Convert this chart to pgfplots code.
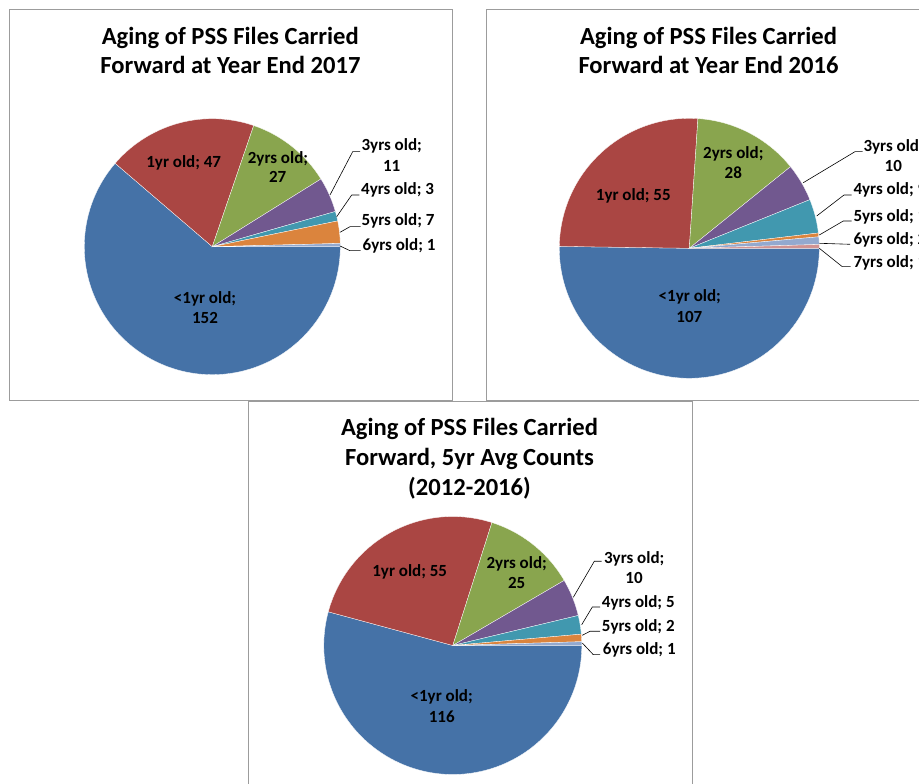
\documentclass[border=0pt]{standalone}
\usepackage{pgfplots}
\pgfplotsset{compat=1.18}
\usepackage{fontspec}
\setmainfont{Carlito}
\definecolor{cA}{HTML}{4572A7}
\definecolor{cB}{HTML}{AA4643}
\definecolor{cC}{HTML}{89A54E}
\definecolor{cD}{HTML}{71588F}
\definecolor{cE}{HTML}{4198AF}
\definecolor{cF}{HTML}{DB843D}
\definecolor{cG}{HTML}{93A9CF}
\definecolor{cH}{HTML}{D19392}
\definecolor{framec}{HTML}{9C9C9C}

% one wedge: colour, start angle, end angle (degrees, clockwise from east)
\newcommand\slice[3]{%
  \addplot[fill=#1, draw=white, line width=0.3pt, domain=#3:#2, samples=120, variable=\t]
    ({cos(\t)},{sin(\t)}) -- (axis cs:0,0) -- cycle;
}
% whole pie from a list value/colour
\newcommand\pie[1]{%
  \gdef\ptot{0}%
  \foreach \v/\c in {#1}{\pgfmathsetmacro\tmp{\ptot+\v}\xdef\ptot{\tmp}}%
  \gdef\pcum{0}%
  \foreach \v/\c in {#1}{%
    \pgfmathsetmacro\aS{-360*(\pcum/\ptot)}%
    \pgfmathsetmacro\aE{-360*((\pcum+\v)/\ptot)}%
    \edef\doslice{\noexpand\slice{\c}{\aS}{\aE}}\doslice
    \pgfmathsetmacro\tmp{\pcum+\v}\xdef\pcum{\tmp}}%
}
\pgfplotsset{pieaxis/.style={anchor=center, scale only axis, xmin=-1, xmax=1, ymin=-1, ymax=1, hide axis, clip=false}}

\begin{document}
\begin{tikzpicture}
\path[use as bounding box] (0,0) rectangle (919pt,784pt);
\clip (0,0) rectangle (919pt,784pt);

% frames
\begin{scope}[x=1pt,y=-1pt,shift={(0pt,784pt)}]
\draw[framec, line width=0.9pt] (9,9) rectangle (452,400.5);
\draw[framec, line width=0.9pt] (486.5,9) rectangle (940,400.5);
\draw[framec, line width=0.9pt] (248,401.5) rectangle (692,800);
\end{scope}

% Chart 1: year end 2017
\begin{axis}[pieaxis, at={(212.3pt,537.3pt)}, width=256pt, height=256pt]
\pie{152/cA,47/cB,27/cC,11/cD,3/cE,7/cF,1/cG}
\end{axis}

% Chart 2: year end 2016
\begin{axis}[pieaxis, at={(689.3pt,535.7pt)}, width=260pt, height=260pt]
\pie{107/cA,55/cB,28/cC,10/cD,9/cE,1/cF,2/cG,1/cH}
\end{axis}

% Chart 3: 5yr average
\begin{axis}[pieaxis, at={(452.8pt,138.5pt)}, width=258pt, height=258pt]
\pie{116/cA,55/cB,25/cC,10/cD,5/cE,2/cF,1/cG}
\end{axis}

\begin{scope}[x=1pt,y=-1pt,shift={(0pt,784pt)}]
\tikzset{tt/.style={anchor=base, inner sep=0pt, font=\bfseries\fontsize{24.6}{29}\selectfont},
         lb/.style={anchor=base, inner sep=0pt, font=\bfseries\fontsize{17}{21}\selectfont},
         lw/.style={anchor=base west, inner sep=0pt, font=\bfseries\fontsize{17}{21}\selectfont},
         ld/.style={black, line width=0.6pt}}
% titles
\node[tt] at (230.3,45) {Aging of PSS Files Carried};
\node[tt] at (230.5,74) {Forward at Year End 2017};
\node[tt] at (708.5,45) {Aging of PSS Files Carried};
\node[tt] at (708.5,74) {Forward at Year End 2016};
\node[tt] at (469.5,436) {Aging of PSS Files Carried};
\node[tt] at (469.5,466) {Forward, 5yr Avg Counts};
\node[tt] at (469.5,496) {(2012-2016)};

% chart 1 labels
\node[lb] at (183.7,168) {1yr old; 47};
\node[lb] at (278,163.3) {2yrs old;};
\node[lb] at (277.7,182.7) {27};
\node[lb] at (205,304) {<1yr old;};
\node[lb] at (205,324) {152};
\node[lb] at (391.7,151) {3yrs old;};
\node[lb] at (391.7,171.7) {11};
\node[lw] at (361,195) {4yrs old; 3};
\node[lw] at (361.5,226) {5yrs old; 7};
\node[lw] at (362.5,250.7) {6yrs old; 1};
\draw[ld] (330,195) -- (352.7,151.7) -- (360,151.7);
\draw[ld] (336.7,216.7) -- (351.7,195) -- (359.3,195);
\draw[ld] (340,232.3) -- (350,226.7) -- (360.7,226.7);
\draw[ld] (340,246) -- (350,250.7) -- (360.7,250.7);

% chart 2 labels
\node[lb] at (633.3,201) {1yr old; 55};
\node[lb] at (733.3,158.3) {2yrs old;};
\node[lb] at (733.3,179) {28};
\node[lb] at (689.8,301.7) {<1yr old;};
\node[lb] at (689.3,322.7) {107};
\node[lw] at (863.3,151.7) {3yrs old;};
\node[lb] at (893.3,171.7) {10};
\node[lw] at (853.3,195) {4yrs old; 9};
\node[lw] at (853.3,221.7) {5yrs old; 1};
\node[lw] at (853.3,244.3) {6yrs old; 2};
\node[lw] at (853.3,267.7) {7yrs old; 1};
\draw[ld] (803.3,182.7) -- (855,151.7) -- (862.7,151.7);
\draw[ld] (816.7,216) -- (844,195) -- (851.7,195);
\draw[ld] (819.3,235) -- (843.3,221) -- (851.7,221);
\draw[ld] (819.3,243.3) -- (850,244.3);
\draw[ld] (819.3,248.3) -- (842.3,266.7) -- (850.7,266.7);

% chart 3 labels
\node[lb] at (409.7,576.3) {1yr old; 55};
\node[lb] at (516.7,568.7) {2yrs old;};
\node[lb] at (516.7,588.7) {25};
\node[lb] at (441.7,702) {<1yr old;};
\node[lb] at (441.7,723) {116};
\node[lb] at (634.2,563.7) {3yrs old;};
\node[lb] at (634,584) {10};
\node[lw] at (601.7,607.3) {4yrs old; 5};
\node[lw] at (601.7,631.3) {5yrs old; 2};
\node[lw] at (602.7,654.7) {6yrs old; 1};
\draw[ld] (573.3,597.3) -- (594.3,561.3) -- (601.7,561.3);
\draw[ld] (581.7,624.7) -- (592.3,607) -- (600,607);
\draw[ld] (582.3,635.3) -- (590,631.3) -- (600,631.3);
\draw[ld] (582.3,643) -- (593.3,654.7) -- (600,654.7);
\end{scope}
\end{tikzpicture}
\end{document}
